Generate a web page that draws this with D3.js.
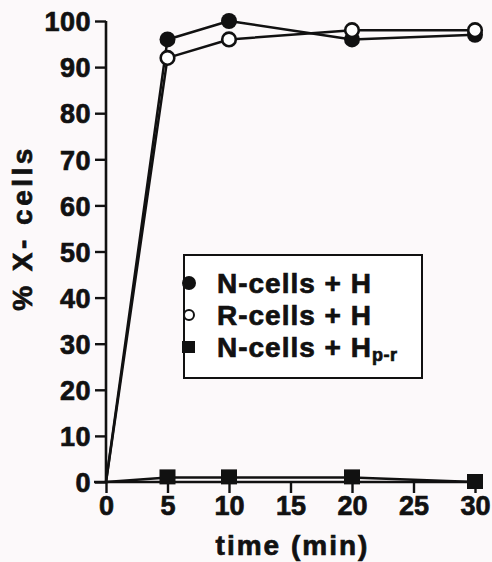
<!DOCTYPE html>
<html><head><meta charset="utf-8">
<script src="https://cdn.jsdelivr.net/npm/d3@7"></script>
<style>html,body{margin:0;padding:0;background:#fcf9fa;}svg{display:block;}</style>
</head><body>
<svg id="c" width="492" height="562"></svg>
<script>
const times = [0, 5, 10, 20, 30];
const nCellsH = [0, 96, 100, 96, 97];
const rCellsH = [0, 92, 96, 98, 98];
const nCellsHpr = [0, 1, 1, 1, 0];
const xTicks = [0, 5, 10, 15, 20, 25, 30];
const yTicks = [0, 10, 20, 30, 40, 50, 60, 70, 80, 90, 100];
const legendLabels = ["N-cells + H", "R-cells + H", "N-cells + H"];

const svg = d3.select("#c");
const x = d3.scaleLinear().domain([0, 30]).range([106, 475]);
const y = d3.scaleLinear().domain([0, 100]).range([482, 21]);
const font = "'Liberation Sans', Arial, Helvetica, sans-serif";
const heavy = sel => sel.attr("stroke", "#111").attr("stroke-width", 0.7).attr("paint-order", "stroke");

// axes
const ya = svg.append("g").attr("transform", `translate(${x(0)},0)`)
  .call(d3.axisLeft(y).tickValues(yTicks).tickSize(11).tickPadding(4).tickFormat(d3.format("d")));
const xa = svg.append("g").attr("transform", `translate(0,${y(0)})`)
  .call(d3.axisBottom(x).tickValues(xTicks).tickSize(11).tickPadding(3).tickFormat(d3.format("d")));
[ya, xa].forEach(a => {
  a.select(".domain").attr("stroke", "#111").attr("stroke-width", 2.6);
  a.selectAll(".tick line").attr("stroke", "#111").attr("stroke-width", 2.4);
  a.selectAll("text").attr("fill", "#111").style("font-family", font)
    .style("font-weight", "bold").style("font-size", "27px").call(heavy);
});
ya.select(".domain").attr("d", `M0,${y(100)}V${y(0)}`);
xa.select(".domain").attr("d", `M${x(0)-12},0H${x(30)+4}`);
ya.selectAll(".tick text").attr("dy", "0.36em").attr("letter-spacing", "0.5px");
xa.selectAll(".tick text").attr("dy", "0.72em");

// axis titles
svg.append("text").attr("x", (x(0)+x(30))/2 + 2).attr("y", 555)
  .attr("text-anchor", "middle").attr("fill", "#111")
  .style("font-family", font).style("font-weight", "bold").style("font-size", "28px")
  .attr("letter-spacing", "2px").call(heavy).text("time (min)");
svg.append("text").attr("transform", "translate(32,228) rotate(-90)")
  .attr("text-anchor", "middle").attr("fill", "#111")
  .style("font-family", font).style("font-weight", "bold").style("font-size", "28px")
  .attr("letter-spacing", "3.5px").call(heavy).text("% X- cells");

// lines
const series = [
  {vals: nCellsH, type: "fc"},
  {vals: rCellsH, type: "oc"},
  {vals: nCellsHpr, type: "sq"}
];
const line = d3.line().x((d, i) => x(times[i])).y(d => y(d));
series.forEach(s => {
  svg.append("path").attr("d", line(s.vals)).attr("fill", "none")
    .attr("stroke", "#111").attr("stroke-width", 2.5).attr("stroke-linejoin", "round");
});
// markers (origin point hidden in reference)
series.forEach(s => {
  const pts = s.vals.map((v, i) => ({t: times[i], v})).filter(p => p.t > 0);
  if (s.type === "sq") {
    svg.selectAll(null).data(pts).enter().append("rect")
      .attr("x", d => x(d.t) - 8).attr("y", d => y(d.v) - 8)
      .attr("width", 16).attr("height", 15).attr("fill", "#111");
  } else {
    svg.selectAll(null).data(pts).enter().append("circle")
      .attr("cx", d => x(d.t)).attr("cy", d => y(d.v))
      .attr("r", s.type === "fc" ? 8 : 6.8)
      .attr("fill", s.type === "fc" ? "#111" : "#fff")
      .attr("stroke", "#111").attr("stroke-width", s.type === "fc" ? 0 : 2.6);
  }
});

// legend
const lg = svg.append("g");
lg.append("rect").attr("x", 184).attr("y", 255).attr("width", 238).attr("height", 123)
  .attr("fill", "#fff").attr("stroke", "#111").attr("stroke-width", 2);
const rowY = [283, 315, 347];
lg.append("circle").attr("cx", 189).attr("cy", rowY[0]).attr("r", 7).attr("fill", "#111");
lg.append("circle").attr("cx", 189).attr("cy", rowY[1]).attr("r", 5).attr("fill", "#fff")
  .attr("stroke", "#111").attr("stroke-width", 2);
lg.append("rect").attr("x", 182).attr("y", rowY[2] - 6).attr("width", 13).attr("height", 12).attr("fill", "#111");
legendLabels.forEach((t, i) => {
  const tx = lg.append("text").attr("x", 217).attr("y", rowY[i] + 10).attr("fill", "#111")
    .style("font-family", font).style("font-weight", "bold").style("font-size", "28px")
    .attr("letter-spacing", "1px").call(heavy).text(t);
  if (i === 2) tx.append("tspan").attr("dy", 4).style("font-size", "18px")
    .attr("letter-spacing", "0.5px").text("p-r");
});
</script>
</body></html>
